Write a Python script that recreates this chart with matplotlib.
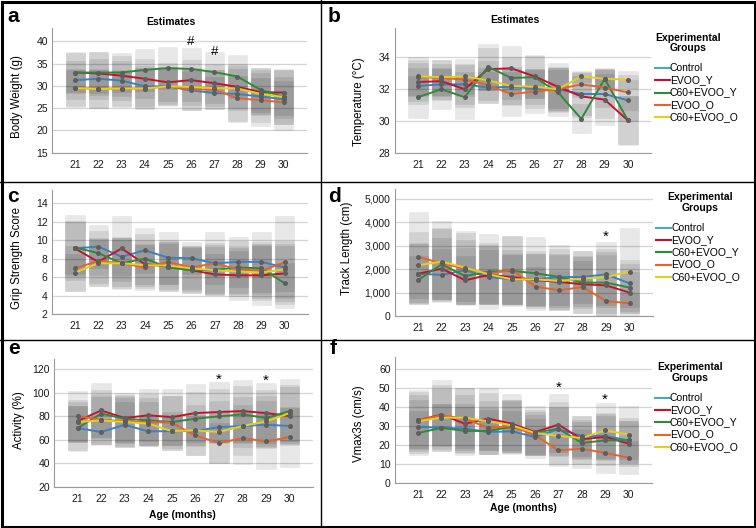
import matplotlib
matplotlib.use("Agg")
import matplotlib.pyplot as plt
from matplotlib.lines import Line2D
from matplotlib.patches import Rectangle
from matplotlib.ticker import FuncFormatter

plt.rcParams["font.family"] = ["Liberation Sans", "DejaVu Sans"]

W, H = 756, 528

ages = [21, 22, 23, 24, 25, 26, 27, 28, 29, 30]
groups = ["Control", "EVOO_Y", "C60+EVOO_Y", "EVOO_O", "C60+EVOO_O"]
line_colors = ["#3b80c2", "#c8102e", "#2e8b35", "#e8622a", "#e4cf1c"]
legend_colors = ["#4aa9b6", "#c8102e", "#2e8b35", "#e8622a", "#e4cf1c"]

# means per group (rows follow `groups`), half-widths of the grey interval boxes
weight_mean = [
    [31.3, 31.6, 31.2, 29.9, 29.9, 29.0, 28.4, 28.2, 27.6, 27.0],
    [33.0, 32.8, 32.3, 31.6, 30.8, 31.3, 30.6, 29.8, 28.6, 28.5],
    [33.0, 33.0, 33.0, 33.6, 34.0, 33.8, 33.1, 32.1, 29.1, 27.5],
    [29.5, 29.4, 29.4, 29.4, 29.9, 29.2, 29.2, 27.2, 26.8, 26.3],
    [29.5, 29.3, 29.4, 29.4, 29.9, 29.8, 29.5, 29.4, 28.2, 27.5],
]
weight_hw = [
    [4.2, 4.5, 4.3, 4.5, 4.4, 4.4, 3.6, 6.2, 6.5, 6.8],
    [4.6, 4.8, 4.5, 4.4, 4.3, 4.6, 4.4, 5.2, 5.0, 5.0],
    [4.4, 4.6, 4.4, 4.7, 4.7, 4.8, 4.6, 4.9, 4.9, 6.0],
    [4.3, 4.4, 4.2, 4.6, 4.2, 4.6, 4.4, 5.0, 5.0, 4.9],
    [4.0, 4.2, 4.0, 4.3, 4.0, 4.2, 4.0, 4.4, 4.8, 4.6],
]

temp_mean = [
    [32.2, 32.3, 32.3, 32.1, 32.15, 32.05, 32.0, 31.7, 31.7, 31.3],
    [32.45, 32.5, 32.0, 33.25, 33.3, 32.8, 32.15, 31.55, 31.35, 30.05],
    [31.5, 32.0, 31.5, 33.4, 32.7, 32.75, 31.8, 30.15, 32.65, 30.05],
    [32.75, 32.7, 32.6, 32.25, 31.7, 31.85, 32.0, 32.3, 32.1, 31.8],
    [32.8, 32.75, 32.8, 32.55, 32.2, 32.15, 32.0, 32.8, 32.65, 32.6],
]
temp_hw = [
    [1.1, 1.0, 1.2, 0.95, 1.1, 1.2, 1.3, 1.3, 1.5, 1.3],
    [1.2, 1.1, 1.1, 1.3, 1.4, 1.35, 1.5, 1.3, 1.6, 1.55],
    [1.3, 1.25, 1.35, 1.45, 1.3, 1.3, 1.5, 0.9, 0.6, 1.5],
    [1.1, 1.1, 1.0, 1.1, 1.4, 1.35, 1.4, 0.8, 1.2, 1.1],
    [1.2, 1.1, 1.1, 1.2, 1.2, 1.1, 1.2, 0.35, 0.6, 0.55],
]

grip_mean = [
    [9.1, 9.3, 8.2, 8.9, 8.1, 8.05, 7.5, 7.65, 7.65, 7.05],
    [9.1, 7.65, 9.1, 7.4, 7.15, 6.75, 6.3, 6.2, 6.2, 6.4],
    [9.2, 8.6, 7.5, 8.0, 7.05, 6.75, 6.8, 7.05, 6.95, 5.35],
    [6.95, 7.75, 7.5, 7.05, 7.65, 7.05, 7.5, 6.85, 6.7, 7.6],
    [6.5, 7.5, 7.5, 7.3, 7.25, 6.95, 6.75, 6.6, 6.5, 6.85],
]
grip_hw = [
    [2.8, 2.3, 2.0, 2.4, 2.8, 1.7, 3.35, 2.7, 3.25, 2.5],
    [3.0, 2.6, 3.5, 2.6, 2.6, 2.5, 2.25, 2.65, 3.2, 3.0],
    [3.5, 2.4, 2.8, 2.7, 2.55, 2.4, 2.5, 2.9, 2.8, 2.2],
    [2.45, 2.4, 2.7, 2.45, 2.4, 2.3, 2.2, 2.5, 2.9, 4.95],
    [2.0, 2.45, 2.5, 2.3, 2.5, 2.4, 2.7, 2.6, 3.0, 3.1],
]

track_mean = [
    [1800, 1750, 1950, 1660, 1560, 1560, 1660, 1660, 1775, 1390],
    [1800, 2015, 1520, 1750, 1660, 1530, 1450, 1350, 1305, 995],
    [1530, 2200, 1700, 1890, 1920, 1820, 1660, 1420, 1420, 1210],
    [2510, 2245, 2015, 1800, 1960, 1250, 1095, 1235, 640, 540],
    [2160, 2315, 2060, 1775, 1560, 1560, 1490, 1590, 1660, 1890],
]
track_hw = [
    [1300, 1110, 1300, 1135, 1035, 1100, 1350, 1110, 1390, 1000],
    [1250, 1300, 1050, 1200, 1150, 1105, 1195, 1210, 1305, 885],
    [1030, 1500, 1200, 1590, 1500, 1560, 1200, 1100, 1300, 1000],
    [1920, 1500, 1500, 1300, 1430, 825, 840, 1095, 640, 430],
    [1400, 1735, 1560, 1250, 1100, 1200, 1100, 1180, 1200, 1870],
]

activity_mean = [
    [70.1, 66.7, 72.9, 67.2, 67.5, 67.5, 70.9, 71.8, 72.9, 71.8],
    [76.0, 85.0, 78.6, 80.9, 79.4, 82.8, 83.7, 84.5, 82.8, 80.3],
    [70.0, 82.3, 78.0, 76.6, 75.2, 78.0, 80.0, 81.7, 78.6, 84.5],
    [80.3, 77.2, 75.7, 75.2, 74.6, 63.8, 57.3, 61.6, 58.7, 62.4],
    [75.2, 76.6, 75.2, 73.8, 67.5, 68.1, 66.7, 71.8, 75.7, 82.8],
]
activity_hw = [
    [19, 11.4, 19, 11.9, 12, 12, 13, 18, 20, 15],
    [18, 23.7, 21.5, 22, 23.6, 24.4, 25.5, 26.1, 25.6, 25],
    [19, 20, 20, 22, 22, 23, 23, 24, 24, 27.5],
    [21, 21, 21.8, 20, 23, 17, 17, 22, 23.8, 25.5],
    [17, 20, 20, 18.5, 15.9, 21.3, 26.4, 25, 22, 24],
]

vmax_mean = [
    [29.5, 29.1, 28.6, 26.8, 27.2, 24.2, 28.3, 24.7, 24.7, 22.4],
    [33.0, 36.0, 31.2, 33.9, 31.2, 26.8, 30.7, 23.0, 24.2, 20.7],
    [26.3, 29.0, 27.4, 27.4, 29.5, 26.5, 28.6, 21.0, 22.4, 22.4],
    [33.0, 35.7, 33.9, 29.0, 30.0, 25.1, 17.1, 18.0, 15.7, 13.3],
    [32.5, 34.4, 34.4, 32.5, 30.4, 26.3, 24.7, 23.7, 27.7, 25.4],
]
vmax_hw = [
    [14, 12.5, 13, 11.4, 10.9, 9.7, 12, 10.4, 12, 10],
    [16.2, 18.2, 15, 16.4, 15.9, 13.8, 16.4, 10, 12, 12],
    [11.8, 12.4, 12.6, 12, 14, 12, 14, 11, 13, 12],
    [15, 16, 16.4, 14, 13.7, 10.6, 8.4, 10.2, 10.4, 8.9],
    [14, 15, 15.9, 15, 13, 11, 15, 11.4, 14.7, 15],
]

# significance marks: (age, y, symbol)
weight_marks = [(26, 39.8, "#"), (27, 37.7, "#")]
track_marks = [(29, 3380, "*")]
activity_marks = [(27, 111.5, "*"), (29, 110.0, "*")]
vmax_marks = [(27, 50.0, "*"), (29, 44.0, "*")]


def fx(x):
    return x / W


def fy(y):
    return 1 - y / H


def add_panel(fig, box, means, hws, ylim, yticks, ylabel, label_xy, marks, comma=False):
    left, top, right, bottom = box
    ax = fig.add_axes([fx(left), fy(bottom), (right - left) / W, (bottom - top) / H])
    for m, hw in zip(means, hws):
        lows = [a - b for a, b in zip(m, hw)]
        heights = [2 * b for b in hw]
        ax.bar(ages, heights, bottom=lows, width=0.82, color=(0, 0, 0, 0.095),
               edgecolor=(0, 0, 0, 0.05), linewidth=0.5, zorder=2)
    for m, c in zip(means, line_colors):
        ax.plot(ages, m, color=c, lw=1.4, zorder=3, solid_joinstyle="round")
    for m in means:
        ax.plot(ages, m, "o", color="#5e5e5e", ms=3.6, mec="none", zorder=4)
    for age, y, sym in marks:
        ax.text(age, y, sym, ha="center", va="center", fontsize=11 if sym == "*" else 9.5)
    ax.set_xlim(20, 31)
    ax.set_ylim(*ylim)
    ax.set_xticks(ages)
    ax.set_yticks(yticks)
    if comma:
        ax.yaxis.set_major_formatter(FuncFormatter(lambda v, p: f"{int(v):,}"))
    ax.tick_params(length=0, labelsize=7.5, labelcolor="#1a1a1a")
    ax.tick_params(axis="x", pad=5)
    ax.tick_params(axis="y", pad=3)
    ax.yaxis.grid(True, color="#d4d4d4", lw=0.9)
    ax.set_axisbelow(True)
    for s in ("top", "right"):
        ax.spines[s].set_visible(False)
    for s in ("left", "bottom"):
        ax.spines[s].set_color("#9a9a9a")
        ax.spines[s].set_linewidth(0.8)
    ax.set_ylabel(ylabel, fontsize=8.3)
    ax.yaxis.set_label_coords(*label_xy)
    return ax


def add_legend(fig, cx, top, line_x):
    fig.text(fx(cx), fy(top), "Experimental\nGroups", ha="center", va="center",
             fontsize=7.5, fontweight="bold", linespacing=1.05)
    for i, (name, c) in enumerate(zip(groups, legend_colors)):
        y = top + 25 + i * 12.3
        fig.add_artist(Line2D([fx(line_x), fx(line_x + 15)], [fy(y), fy(y)],
                              transform=fig.transFigure, color=c, lw=1.5))
        fig.text(fx(line_x + 15), fy(y), name, ha="left", va="center", fontsize=7.5)


fig = plt.figure(figsize=(W / 100, H / 100), dpi=100)

add_panel(fig, (52, 28, 307, 152.7), weight_mean, weight_hw, (15, 43),
          [15, 20, 25, 30, 35, 40], "Body Weight (g)", (-0.114, 0.45), weight_marks)
add_panel(fig, (394.7, 28.3, 651.3, 153.3), temp_mean, temp_hw, (28, 35.8),
          [28, 30, 32, 34], "Temperature (°C)", (-0.116, 0.41), [])
add_panel(fig, (51.7, 190, 308, 314.3), grip_mean, grip_hw, (2, 15.4),
          [2, 4, 6, 8, 10, 12, 14], "Grip Strength Score", (-0.113, 0.45), [])
add_panel(fig, (394.7, 188.7, 653, 316), track_mean, track_hw, (0, 5420),
          [0, 1000, 2000, 3000, 4000, 5000], "Track Length (cm)", (-0.16, 0.53), track_marks,
          comma=True)
add_panel(fig, (54, 358.7, 313.3, 487), activity_mean, activity_hw, (20, 129),
          [20, 40, 60, 80, 100, 120], "Activity (%)", (-0.112, 0.52), activity_marks)
add_panel(fig, (394.7, 357, 652, 482.7), vmax_mean, vmax_hw, (0, 66.5),
          [0, 10, 20, 30, 40, 50, 60], "Vmax3s (cm/s)", (-0.115, 0.47), vmax_marks)

fig.text(fx(171), fy(21.7), "Estimates", ha="center", va="center", fontsize=7.5, fontweight="bold")
fig.text(fx(514.7), fy(20), "Estimates", ha="center", va="center", fontsize=7.5, fontweight="bold")
fig.text(fx(182.7), fy(515.3), "Age (months)", ha="center", va="center", fontsize=7.5, fontweight="bold")
fig.text(fx(523.7), fy(507.7), "Age (months)", ha="center", va="center", fontsize=7.5, fontweight="bold")

add_legend(fig, 688, 43, 655)
add_legend(fig, 699.7, 202.7, 656)
add_legend(fig, 689.7, 372.7, 654.7)

for letter, x, y in [("a", 7, 16), ("b", 328, 16), ("c", 7, 196), ("d", 328, 196),
                     ("e", 8, 349), ("f", 330, 349)]:
    fig.text(fx(x), fy(y), letter, ha="left", va="center", fontsize=15, fontweight="bold")

# panel frame lines
fig.add_artist(Rectangle((fx(1.5), fy(526.5)), fx(753), 525 / H, transform=fig.transFigure,
                         fill=False, edgecolor="black", lw=2.2))
for y in (181.5, 340):
    fig.add_artist(Line2D([0, 1], [fy(y), fy(y)], transform=fig.transFigure, color="black", lw=1.0))
fig.add_artist(Line2D([fx(321), fx(321)], [0, 1], transform=fig.transFigure, color="black", lw=1.0))

fig.savefig("out.png", dpi=100)
